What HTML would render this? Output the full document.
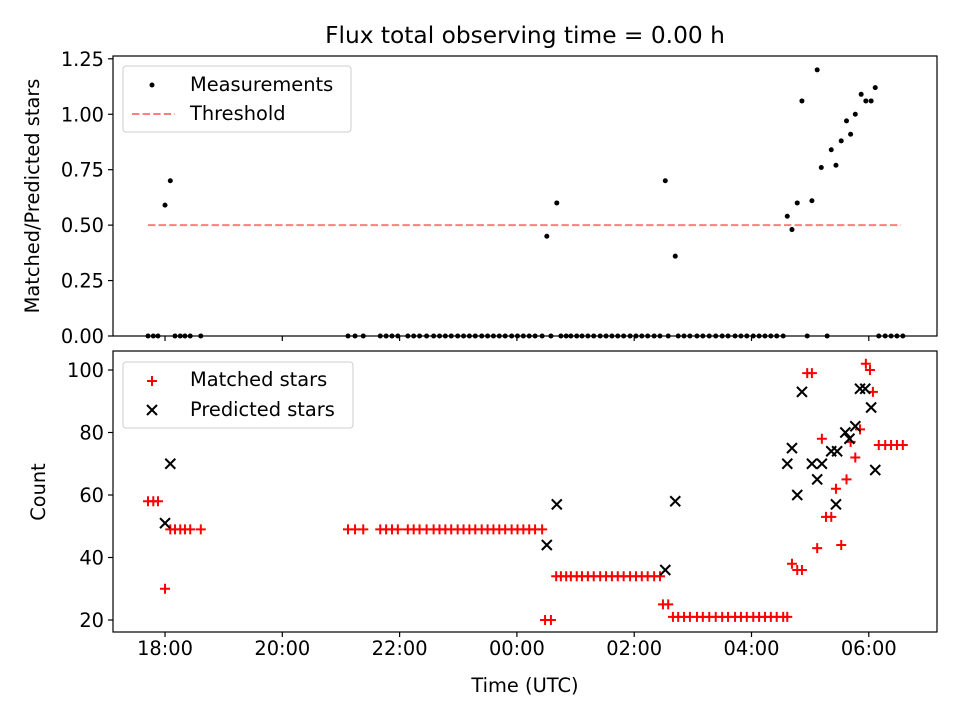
<!DOCTYPE html>
<html><head><meta charset="utf-8"><style>
html,body{margin:0;padding:0;background:#fff}
svg{display:block;font-family:"DejaVu Sans","Liberation Sans",sans-serif}
</style></head><body>
<svg id="chart" width="960" height="720" viewBox="0 0 960 720"></svg>
<script>
const ratioTimes=[18.0,18.09,24.51,24.68,26.53,26.70,28.61,28.69,28.78,28.86,29.03,29.12,29.19,29.36,29.44,29.53,29.62,29.69,29.77,29.87,29.95,30.04,30.11];
const ratioValues=[0.59,0.70,0.45,0.60,0.70,0.36,0.54,0.48,0.60,1.06,0.61,1.20,0.76,0.84,0.77,0.88,0.97,0.91,1.00,1.09,1.06,1.06,1.12];
const zeroTimes=[17.71,17.80,17.88,18.17,18.26,18.34,18.43,18.61,21.12,21.24,21.38,21.67,21.77,21.87,21.97,22.14,22.24,22.34,22.46,22.58,22.68,22.78,22.88,22.99,23.09,23.19,23.29,23.40,23.50,23.60,23.70,23.80,23.91,24.01,24.11,24.21,24.31,24.43,24.58,24.75,24.84,24.92,25.02,25.11,25.21,25.31,25.42,25.52,25.62,25.72,25.82,25.93,26.03,26.13,26.23,26.34,26.44,26.58,26.75,26.85,26.95,27.07,27.17,27.28,27.39,27.50,27.60,27.72,27.82,27.92,28.03,28.13,28.23,28.33,28.43,28.54,28.95,29.29,30.17,30.28,30.38,30.48,30.58];
const matchedTimes=[17.71,17.80,17.88,18.00,18.09,18.17,18.26,18.34,18.43,18.61,21.12,21.24,21.38,21.67,21.77,21.87,21.97,22.14,22.24,22.34,22.46,22.58,22.68,22.78,22.88,22.99,23.09,23.19,23.29,23.40,23.50,23.60,23.70,23.80,23.91,24.01,24.11,24.21,24.31,24.43,24.48,24.58,24.67,24.75,24.84,24.92,25.02,25.11,25.21,25.31,25.42,25.52,25.62,25.72,25.82,25.93,26.03,26.13,26.23,26.34,26.44,26.49,26.58,26.66,26.75,26.85,26.95,27.07,27.17,27.28,27.39,27.50,27.60,27.72,27.82,27.92,28.03,28.13,28.23,28.33,28.43,28.54,28.61,28.69,28.78,28.86,28.95,29.03,29.12,29.20,29.27,29.36,29.44,29.53,29.62,29.69,29.77,29.85,29.95,30.02,30.07,30.17,30.28,30.38,30.48,30.58];
const matchedCounts=[58,58,58,30,49,49,49,49,49,49,49,49,49,49,49,49,49,49,49,49,49,49,49,49,49,49,49,49,49,49,49,49,49,49,49,49,49,49,49,49,20,20,34,34,34,34,34,34,34,34,34,34,34,34,34,34,34,34,34,34,34,25,25,21,21,21,21,21,21,21,21,21,21,21,21,21,21,21,21,21,21,21,21,38,36,36,99,99,43,78,53,53,62,44,65,77,72,81,102,100,93,76,76,76,76,76,76];
const predictedTimes=[18.0,18.09,24.51,24.68,26.53,26.70,28.61,28.69,28.78,28.86,29.03,29.12,29.20,29.36,29.44,29.46,29.60,29.67,29.77,29.85,29.94,30.04,30.11];
const predictedCounts=[51,70,44,57,36,58,70,75,60,93,70,65,70,74,57,74,80,78,82,94,94,88,68];
const xTickVals=[18,20,22,24,26,28,30];
const xTickLabels=["18:00","20:00","22:00","00:00","02:00","04:00","06:00"];
const topTicks=[0,0.25,0.5,0.75,1.0,1.25];
const botTicks=[20,40,60,80,100];
const threshold=0.5, thrStart=17.71, thrEnd=30.55;

const NS="http://www.w3.org/2000/svg";
const svg=document.getElementById('chart');
function el(tag,attrs,parent,text){const e=document.createElementNS(NS,tag);for(const k in attrs)e.setAttribute(k,attrs[k]);if(text!==undefined)e.textContent=text;(parent||svg).appendChild(e);return e;}
const FS='19.4px';
const L=113,R=937,T1=56,B1=336,T2=351,B2=632;
const xMin=17.113,xMax=31.163;
const X=t=>L+(t-xMin)/(xMax-xMin)*(R-L);
const y1Min=0,y1Max=1.2627;
const Y1=v=>B1-(v-y1Min)/(y1Max-y1Min)*(B1-T1);
const y2Min=16.16,y2Max=106.08;
const Y2=v=>B2-(v-y2Min)/(y2Max-y2Min)*(B2-T2);

el('text',{x:525,y:43,'text-anchor':'middle','font-size':'23.3px',fill:'#000',},svg,'Flux total observing time = 0.00 h');

// top panel
const gTop=el('g',{});
el('line',{x1:X(thrStart),x2:X(thrEnd),y1:Y1(threshold),y2:Y1(threshold),stroke:'#ff7f7f','stroke-width':2,'stroke-dasharray':'7.4,3.2',},gTop);
zeroTimes.forEach(t=>{const c=el('circle',{cx:X(t),cy:Y1(0),r:2.5,fill:'#000'},gTop);

});
ratioTimes.forEach((t,i)=>{const c=el('circle',{cx:X(t),cy:Y1(ratioValues[i]),r:2.5,fill:'#000'},gTop);

});
el('rect',{x:L,y:T1,width:R-L,height:B1-T1,fill:'none',stroke:'#000','stroke-width':1.2,},gTop);
topTicks.forEach(v=>{const y=Y1(v);el('line',{x1:L-5,x2:L,y1:y,y2:y,stroke:'#000','stroke-width':1.2},gTop);
const tx=el('text',{x:L-9,y:y+7,'text-anchor':'end','font-size':FS},gTop,v.toFixed(2));

});
xTickVals.forEach(v=>{el('line',{x1:X(v),x2:X(v),y1:B1,y2:B1+5,stroke:'#000','stroke-width':1.2},gTop);});
el('text',{x:39,y:196,'text-anchor':'middle','font-size':FS,transform:'rotate(-90 39 196)',},gTop,'Matched/Predicted stars');
const lg1=el('g',{},gTop);
el('rect',{x:123,y:66,width:228,height:66,rx:3,fill:'#fff','fill-opacity':0.8,stroke:'#ccc'},lg1);
el('circle',{cx:152,cy:85,r:2.5,fill:'#000'},lg1);
el('text',{x:190,y:91,'font-size':FS,},lg1,'Measurements');
el('line',{x1:132,x2:175,y1:114,y2:114,stroke:'#ff7f7f','stroke-width':2,'stroke-dasharray':'7.4,3.2'},lg1);
el('text',{x:190,y:120,'font-size':FS,},lg1,'Threshold');

// bottom panel
const gBot=el('g',{});
function plus(x,y,g){return el('path',{d:`M${x-5},${y}H${x+5}M${x},${y-5}V${y+5}`,stroke:'#f00','stroke-width':2,fill:'none'},g);}
function cross(x,y,g){return el('path',{d:`M${x-5},${y-5}L${x+5},${y+5}M${x-5},${y+5}L${x+5},${y-5}`,stroke:'#000','stroke-width':2,fill:'none'},g);}
matchedTimes.forEach((t,i)=>{const p=plus(X(t),Y2(matchedCounts[i]),gBot);

});
predictedTimes.forEach((t,i)=>{const p=cross(X(t),Y2(predictedCounts[i]),gBot);

});
el('rect',{x:L,y:T2,width:R-L,height:B2-T2,fill:'none',stroke:'#000','stroke-width':1.2,},gBot);
botTicks.forEach(v=>{const y=Y2(v);el('line',{x1:L-5,x2:L,y1:y,y2:y,stroke:'#000','stroke-width':1.2},gBot);
const tx=el('text',{x:L-9,y:y+7,'text-anchor':'end','font-size':FS},gBot,String(v));

});
xTickVals.forEach((v,i)=>{el('line',{x1:X(v),x2:X(v),y1:B2,y2:B2+5,stroke:'#000','stroke-width':1.2},gBot);
const tx=el('text',{x:X(v),y:B2+23,'text-anchor':'middle','font-size':FS},gBot,xTickLabels[i]);

});
el('text',{x:525,y:692,'text-anchor':'middle','font-size':FS,},gBot,'Time (UTC)');
el('text',{x:45,y:492,'text-anchor':'middle','font-size':FS,transform:'rotate(-90 45 492)',},gBot,'Count');
const lg2=el('g',{},gBot);
el('rect',{x:123,y:362,width:230,height:66,rx:3,fill:'#fff','fill-opacity':0.8,stroke:'#ccc'},lg2);
plus(152,381,lg2);
el('text',{x:190,y:386,'font-size':FS,},lg2,'Matched stars');
cross(152,410,lg2);
el('text',{x:190,y:416,'font-size':FS,},lg2,'Predicted stars');
</script>
</body></html>
